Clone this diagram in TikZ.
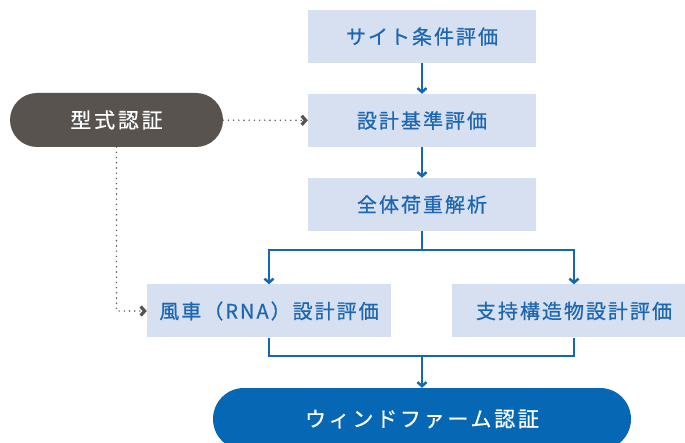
\documentclass[tikz,border=0pt]{standalone}
\usepackage{fontspec}
\setmainfont{Noto Sans CJK JP}[LetterSpace=10, FakeBold=0.6]
\usetikzlibrary{arrows.meta}

\definecolor{boxfill}{HTML}{D6E0F0}
\definecolor{boxtext}{HTML}{1D67B2}
\definecolor{flowblue}{HTML}{1467B5}
\definecolor{pillblue}{HTML}{0667B4}
\definecolor{pillgray}{HTML}{58534F}

\tikzset{
  evalbox/.style={fill=boxfill, text=boxtext, inner sep=0pt, minimum height=53pt, font=\fontsize{20}{22}\selectfont},
  pill/.style={text=white, inner sep=0pt, rounded corners=27pt, font=\fontsize{21}{23}\selectfont\addfontfeatures{LetterSpace=13}},
  flow/.style={draw=flowblue, line width=2.5pt, -{Straight Barb[length=4pt,width=9pt,line width=2.5pt]}},
  flowline/.style={draw=flowblue, line width=2.5pt},
  dots/.style={draw=pillgray, line width=1.6pt, line cap=round, dash pattern=on 0pt off 5.2pt, -{Straight Barb[length=4pt,width=9pt,line width=3.2pt]}}
}

\begin{document}
\begin{tikzpicture}[x=1pt, y=-1pt]
    \useasboundingbox (0,0) rectangle (685,443);
    \clip (0,0) rectangle (685,443);

    \node (site) at (422,36.5) [evalbox, minimum width=228pt] {サイト条件評価};
    \node (basis) at (422,120.5) [evalbox, minimum width=228pt] {設計基準評価};
    \node (load) at (422,204.5) [evalbox, minimum width=228pt] {全体荷重解析};
    \node (rna) at (269,311) [evalbox, minimum width=244pt] {風車（RNA）設計評価};
    \node (support) at (574,311) [evalbox, minimum width=244pt] {支持構造物設計評価};

    \node (type) at (116.5,120) [pill, fill=pillgray, minimum width=213pt, minimum height=54pt] {型式認証};
    \node (farm) at (422,419) [pill, fill=pillblue, minimum width=418pt, minimum height=62pt, rounded corners=31pt] {ウィンドファーム認証};

    \coordinate (split) at (422,250);
    \coordinate (join) at (422,356);

    \draw[flow] (site) -- (basis);
    \draw[flow] (basis) -- (load);
    \draw[flow] (load) -- (split) -| (rna);
    \draw[flow] (split) -| (support);
    \draw[flowline] (rna) |- (join);
    \draw[flowline] (support) |- (join);
    \draw[flow] (join) -- (farm);

    \draw[dots] (type) -- (basis);
    \draw[dots] (type.south) |- (rna);
  \end{tikzpicture}
\end{document}
